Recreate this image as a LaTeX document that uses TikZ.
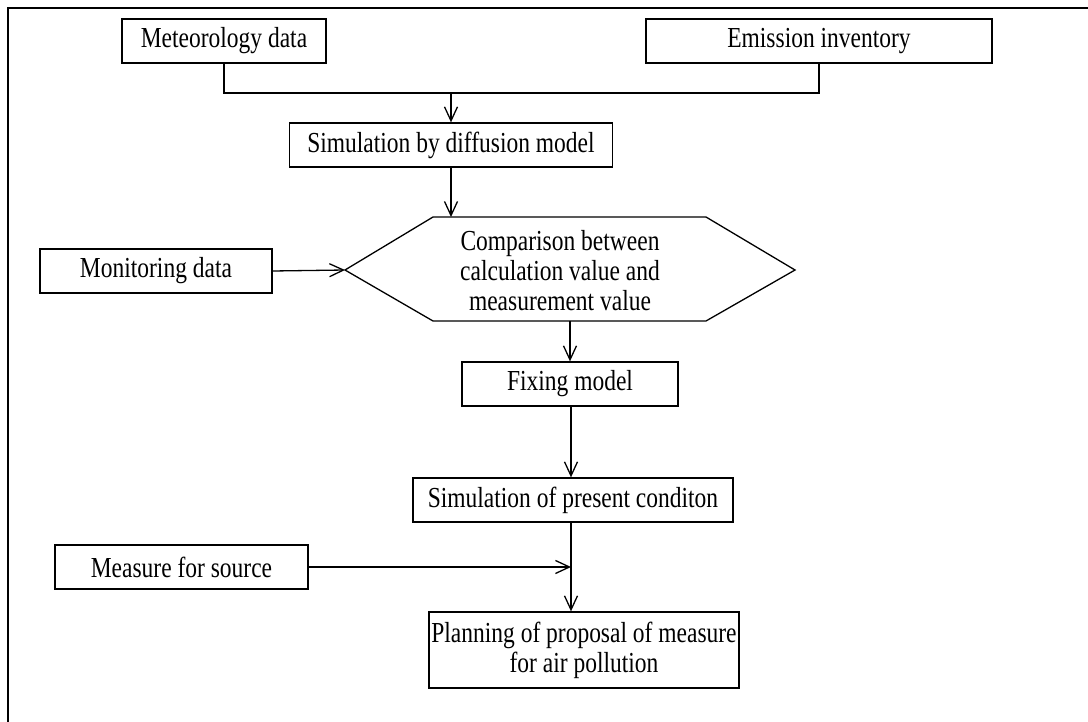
\documentclass[tikz,border=0pt]{standalone}
\usepackage{fontspec}
\setmainfont{Liberation Serif}[FakeStretch=0.81]
\usetikzlibrary{arrows.meta}
\begin{document}
\begin{tikzpicture}[x=1pt,y=-1pt,
  box/.style={draw,line width=1.3pt,minimum height=44pt,inner sep=0pt,align=center,
    font=\fontsize{29}{30}\selectfont},
  txt/.style={inner sep=0pt,align=center,font=\fontsize{29}{30}\selectfont},
  arr/.style={line width=1.3pt,-{Straight Barb[length=14pt,width=13pt,line width=1.3pt]}},
  ln/.style={line width=1.3pt}]
\useasboundingbox (0,0) rectangle (1088,722);
% frame
\draw[line width=2pt] (1088,8) -- (8,8) -- (8,722);
% nodes
\node[box,minimum width=204pt] (met) at (224,41) {Meteorology data};
\node[box,minimum width=346pt] (emi) at (819,41) {Emission inventory};
\node[box,minimum width=323pt] (dif) at (451,145) {Simulation by diffusion model};
\node[txt] (cmp) at (560,271) {Comparison between\\calculation value and\\measurement value};
\coordinate (hL) at (345,270);
\coordinate (hTL) at (433,217);
\coordinate (hTR) at (706,217);
\coordinate (hR) at (795,270);
\coordinate (hBR) at (706,321);
\coordinate (hBL) at (433,321);
\draw[ln] (hL) -- (hTL) -- (hTR) -- (hR) -- (hBR) -- (hBL) -- cycle;
\node[box,minimum width=232pt] (mon) at (156,271) {Monitoring data};
\node[box,minimum width=216pt] (fix) at (570,384) {Fixing model};
\node[box,minimum width=320pt] (pre) at (573,500) {Simulation of present conditon};
\node[box,minimum width=253pt] (mea) at (181.5,567) {Measure for source};
\node[box,minimum width=310pt,minimum height=76pt] (pla) at (584,650) {Planning of proposal of measure\\for air pollution};
% connectors
\coordinate (j) at (451,93);
\draw[ln] (met.south) -- (met.south |- j) -- (emi.south |- j) -- (emi.south);
\draw[arr] (j) -- (dif.south |- dif.north);
\draw[arr] (dif.south) -- (dif.south |- hTL);
\draw[arr] (mon.east) -- (hL);
\draw[arr] (fix.north |- hBL) -- (fix.north);
\coordinate (v1) at (571,406);
\draw[arr] (v1) -- (v1 |- pre.north);
\coordinate (v2) at (571,522);
\draw[arr] (v2) -- (v2 |- pla.north);
\draw[arr] (mea.east) -- (mea.east -| v2);
\end{tikzpicture}
\end{document}
